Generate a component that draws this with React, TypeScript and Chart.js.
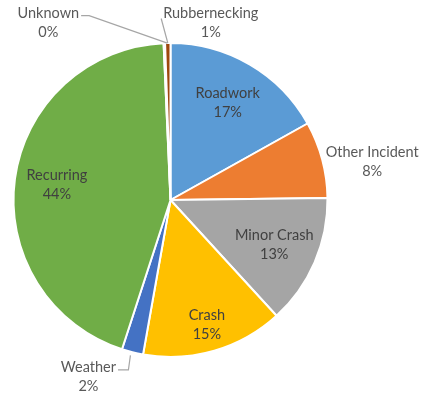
import React, { useEffect, useRef } from 'react';
import { Chart, registerables } from 'chart.js';

Chart.register(...registerables);

const categories = ['Roadwork', 'Other Incident', 'Minor Crash', 'Crash', 'Weather', 'Recurring', 'Unknown', 'Rubbernecking'];
const shares = [16.9, 7.9, 13.4, 14.6, 2.2, 44.3, 0.15, 0.55];
const sliceColors = ['#5B9BD5', '#ED7D31', '#A5A5A5', '#FFC000', '#4472C4', '#70AD47', '#255E91', '#9E480E'];

type Place =
  | { mode: 'in'; r: number }
  | { mode: 'out'; dx: number; dy: number; leader: 'none' | 'right-elbow' | 'right-diag' | 'left-diag' };

const placements: Place[] = [
  { mode: 'in', r: 0.72 },
  { mode: 'out', dx: 50, dy: 2, leader: 'none' },
  { mode: 'in', r: 0.72 },
  { mode: 'in', r: 0.83 },
  { mode: 'out', dx: -44, dy: 25, leader: 'right-elbow' },
  { mode: 'in', r: 0.73 },
  { mode: 'out', dx: -116, dy: -20, leader: 'right-diag' },
  { mode: 'out', dx: 43, dy: -20, leader: 'left-diag' },
];

const FONT = '14.5px Lato, "Open Sans", sans-serif';
const LINE_GAP = 19;

const labelPlugin = {
  id: 'sliceLabels',
  afterDatasetsDraw(chart: any) {
    const ctx: CanvasRenderingContext2D = chart.ctx;
    const meta = chart.getDatasetMeta(0);
    const total = shares.reduce((a, b) => a + b, 0);
    ctx.save();
    ctx.font = FONT;
    ctx.textAlign = 'center';
    ctx.textBaseline = 'middle';
    meta.data.forEach((arc: any, i: number) => {
      const p = arc.getProps(['x', 'y', 'startAngle', 'endAngle', 'outerRadius'], true);
      const mid = (p.startAngle + p.endAngle) / 2;
      const pl = placements[i];
      const lines = [categories[i], Math.round((shares[i] / total) * 100) + '%'];
      let cx: number, cy: number;
      const ex = p.x + Math.cos(mid) * p.outerRadius;
      const ey = p.y + Math.sin(mid) * p.outerRadius;
      if (pl.mode === 'in') {
        cx = p.x + Math.cos(mid) * p.outerRadius * pl.r;
        cy = p.y + Math.sin(mid) * p.outerRadius * pl.r;
        ctx.fillStyle = '#404040';
      } else {
        cx = ex + pl.dx;
        cy = ey + pl.dy;
        ctx.fillStyle = '#595959';
        const w = ctx.measureText(lines[0]).width;
        const y1 = cy - LINE_GAP / 2;
        ctx.strokeStyle = '#A6A6A6';
        ctx.lineWidth = 1.2;
        ctx.beginPath();
        if (pl.leader === 'right-elbow') {
          const sx = cx + w / 2 + 2;
          ctx.moveTo(sx, y1 + 2);
          ctx.lineTo(ex - 4, y1 + 2);
          ctx.lineTo(ex - 2, ey + 3);
        } else if (pl.leader === 'right-diag') {
          const sx = cx + w / 2 + 2;
          ctx.moveTo(sx, y1 + 2);
          ctx.lineTo(sx + 8, y1 + 2);
          ctx.lineTo(ex + 3, ey);
        } else if (pl.leader === 'left-diag') {
          const sx = cx - w / 2 - 2;
          ctx.moveTo(sx, y1 + 5);
          ctx.lineTo(ex, ey);
        }
        ctx.stroke();
      }
      ctx.fillText(lines[0], cx, cy - LINE_GAP / 2);
      ctx.fillText(lines[1], cx, cy + LINE_GAP / 2);
    });
    ctx.restore();
  },
};

export default function App() {
  const ref = useRef<HTMLCanvasElement | null>(null);
  useEffect(() => {
    if (!ref.current) return;
    const chart = new Chart(ref.current, {
      type: 'pie',
      data: {
        labels: categories,
        datasets: [
          {
            data: shares,
            backgroundColor: sliceColors,
            borderColor: '#ffffff',
            borderWidth: 2,
          },
        ],
      },
      options: {
        responsive: false,
        animation: false,
        layout: { padding: { left: 12.5, right: 96.5, top: 42, bottom: 42 } },
        plugins: {
          legend: { display: false },
          tooltip: { enabled: false },
        },
      },
      plugins: [labelPlugin],
    });
    return () => chart.destroy();
  }, []);
  return (
    <div style={{ position: 'fixed', left: 0, top: 0, width: 425, height: 400, background: '#fff' }}>
      <canvas ref={ref} width={425} height={400} />
    </div>
  );
}
